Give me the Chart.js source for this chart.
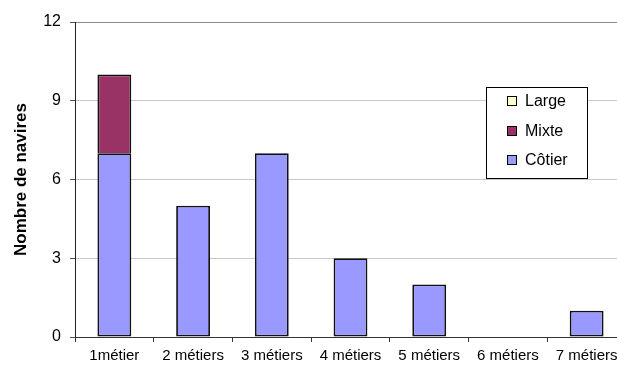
<!DOCTYPE html>
<html>
<head>
<meta charset="utf-8">
<script src="https://cdn.jsdelivr.net/npm/chart.js@4/dist/chart.umd.min.js"></script>
<style>
  html, body { margin: 0; padding: 0; background: #fff; overflow: hidden; }
  #wrap { width: 626px; height: 365px; }
</style>
</head>
<body>
<div id="wrap"><canvas id="navires" width="626" height="365"></canvas></div>
<script>
// données du graphique
const categories = ['1métier', '2 métiers', '3 métiers', '4 métiers', '5 métiers', '6 métiers', '7 métiers'];
const cotier = [7, 5, 7, 3, 2, 0, 1];
const mixte = [3, 0, 0, 0, 0, 0, 0];
const large = [0, 0, 0, 0, 0, 0, 0];
const yTicks = [0, 3, 6, 9, 12];

const FONT = '"Liberation Sans", Arial, sans-serif';

// légende encadrée dans la zone du graphique
const boxLegend = {
    id: 'boxLegend',
    afterDraw(chart, args, opts) {
        const ctx = chart.ctx;
        ctx.save();
        ctx.fillStyle = '#fff';
        ctx.fillRect(opts.x, opts.y, opts.w, opts.h);
        ctx.strokeStyle = '#000';
        ctx.lineWidth = 1;
        ctx.strokeRect(opts.x + 0.5, opts.y + 0.5, opts.w, opts.h);
        const sets = chart.data.datasets.slice().reverse();
        ctx.font = '16px ' + FONT;
        ctx.textBaseline = 'middle';
        sets.forEach((ds, i) => {
            const cy = Math.round(opts.y + opts.first + i * opts.step);
            ctx.fillStyle = ds.backgroundColor;
            ctx.fillRect(opts.x + 21, cy - 5, 9, 9);
            ctx.strokeStyle = '#000';
            ctx.strokeRect(opts.x + 21.5, cy - 4.5, 9, 9);
            ctx.fillStyle = '#000';
            ctx.fillText(ds.label, opts.x + 39, cy + 1);
        });
        ctx.restore();
    }
};

const noZero = c => (c.raw === 0 ? 0 : 1.8);

const ctx = document.getElementById('navires').getContext('2d');
const chart = new Chart(ctx, {
    type: 'bar',
    data: {
        labels: categories,
        datasets: [
            { label: 'Côtier', data: cotier, backgroundColor: '#9999FF', borderColor: '#111', borderWidth: noZero, borderSkipped: false },
            { label: 'Mixte', data: mixte, backgroundColor: '#993366', borderColor: '#111', borderWidth: noZero, borderSkipped: 'bottom' },
            { label: 'Large', data: large, backgroundColor: '#FFFFCC', borderColor: '#111', borderWidth: noZero, borderSkipped: 'bottom' }
        ]
    },
    options: {
        responsive: false,
        animation: false,
        layout: { padding: { top: 22, left: 0, right: 0, bottom: 0 } },
        datasets: { bar: { categoryPercentage: 1, barPercentage: 0.43 } },
        plugins: {
            legend: { display: false },
            tooltip: { enabled: false },
            boxLegend: { x: 486, y: 87, w: 101, h: 91, first: 14, step: 29.5 }
        },
        scales: {
            x: {
                stacked: true,
                afterFit(s) { s.height = 28; },
                grid: { offset: true, drawOnChartArea: false, tickLength: 5, tickColor: '#333' },
                border: { color: '#333', width: 1 },
                ticks: { color: '#000', font: { family: FONT, size: 15 }, padding: 5, maxRotation: 0 }
            },
            y: {
                stacked: true,
                min: 0,
                max: 12,
                afterFit(s) { s.width = 75; },
                afterBuildTicks(s) { s.ticks = yTicks.map(v => ({ value: v })); },
                grid: {
                    color: c => (c.tick && c.tick.value === 12 ? '#888' : '#c8c8c8'),
                    tickColor: '#555',
                    tickLength: 5
                },
                border: { color: '#222', width: 1 },
                ticks: { color: '#000', font: { family: FONT, size: 16 }, padding: 9 },
                title: {
                    display: true,
                    text: 'Nombre de navires',
                    color: '#000',
                    font: { family: FONT, size: 17, weight: 'bold' },
                    padding: { top: 11, bottom: 0 }
                }
            }
        }
    },
    plugins: [boxLegend]
});
</script>
</body>
</html>
